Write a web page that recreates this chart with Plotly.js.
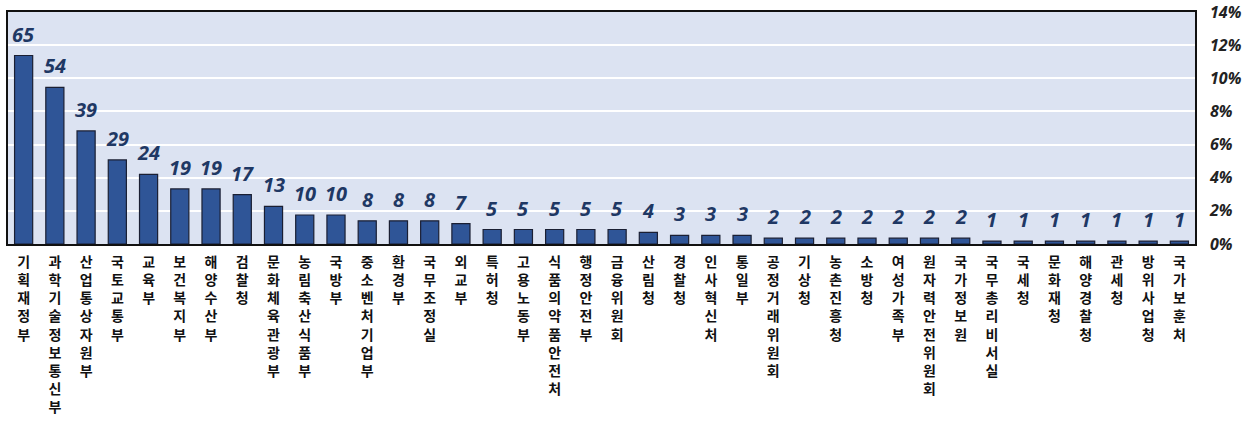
<!DOCTYPE html>
<html>
<head>
<meta charset="utf-8">
<script src="https://cdn.plot.ly/plotly-3.0.1.min.js"></script>
<style>html,body{margin:0;padding:0;background:#fff;}#chart{width:1255px;height:423px;}</style>
</head>
<body>
<div id="chart"></div>
<script>
const categories = ["기획재정부","과학기술정보통신부","산업통상자원부","국토교통부","교육부","보건복지부","해양수산부","검찰청","문화체육관광부","농림축산식품부","국방부","중소벤처기업부","환경부","국무조정실","외교부","특허청","고용노동부","식품의약품안전처","행정안전부","금융위원회","산림청","경찰청","인사혁신처","통일부","공정거래위원회","기상청","농촌진흥청","소방청","여성가족부","원자력안전위원회","국가정보원","국무총리비서실","국세청","문화재청","해양경찰청","관세청","방위사업청","국가보훈처"];
const counts = [65,54,39,29,24,19,19,17,13,10,10,8,8,8,7,5,5,5,5,5,4,3,3,3,2,2,2,2,2,2,2,1,1,1,1,1,1,1];
const pctTicks = [0,2,4,6,8,10,12,14];

const verticalLabels = categories.map(c => Array.from(c).join('<br>'));

const trace = {
  type: 'bar',
  x: categories,
  y: counts,
  marker: {color: '#2F5597', line: {color: '#1a1f33', width: 1.2}},
  hoverinfo: 'skip'
};
const dummy = {
  type: 'scatter', x: [categories[0]], y: [0], yaxis: 'y2', mode: 'markers',
  marker: {opacity: 0}, hoverinfo: 'skip', showlegend: false
};

const valueLabels = categories.map((c, i) => ({
  x: c, y: counts[i], xref: 'x', yref: 'y',
  text: String(counts[i]), showarrow: false,
  yanchor: 'bottom', yshift: 6,
  font: {family: '"Open Sans", sans-serif', size: 20, color: '#1F3864', weight: 700, style: 'italic'}
}));

const layout = {
  width: 1255, height: 423,
  margin: {l: 8, r: 60, t: 12, b: 179},
  paper_bgcolor: '#ffffff',
  plot_bgcolor: '#DCE3F2',
  showlegend: false,
  bargap: 0.42,
  annotations: valueLabels,
  xaxis: {
    type: 'category', range: [-0.5, categories.length - 0.5], autorange: false,
    tickmode: 'array', tickvals: categories, ticktext: verticalLabels,
    tickangle: 0,
    tickfont: {family: '"Noto Sans CJK KR", sans-serif', size: 14, color: '#111', weight: 700},
    ticklabelstandoff: 4,
    showline: true, linecolor: '#111', linewidth: 2, mirror: true,
    ticks: '', showgrid: false, fixedrange: true
  },
  yaxis: {
    range: [0, 80], showticklabels: false, showgrid: false, zeroline: false,
    showline: true, linecolor: '#111', linewidth: 2, mirror: true, ticks: ''
  },
  yaxis2: {
    overlaying: 'y', side: 'right', range: [0, 14],
    tickmode: 'array', tickvals: pctTicks, ticktext: pctTicks.map(v => v + '%'),
    tickfont: {family: '"Open Sans", sans-serif', size: 16, color: '#222', weight: 700, style: 'italic'},
    showgrid: true, gridcolor: '#ffffff', gridwidth: 2,
    zeroline: false, ticks: '', ticklabelstandoff: 14, showline: false
  }
};

Plotly.newPlot('chart', [trace, dummy], layout, {displayModeBar: false, staticPlot: true});
</script>
</body>
</html>
